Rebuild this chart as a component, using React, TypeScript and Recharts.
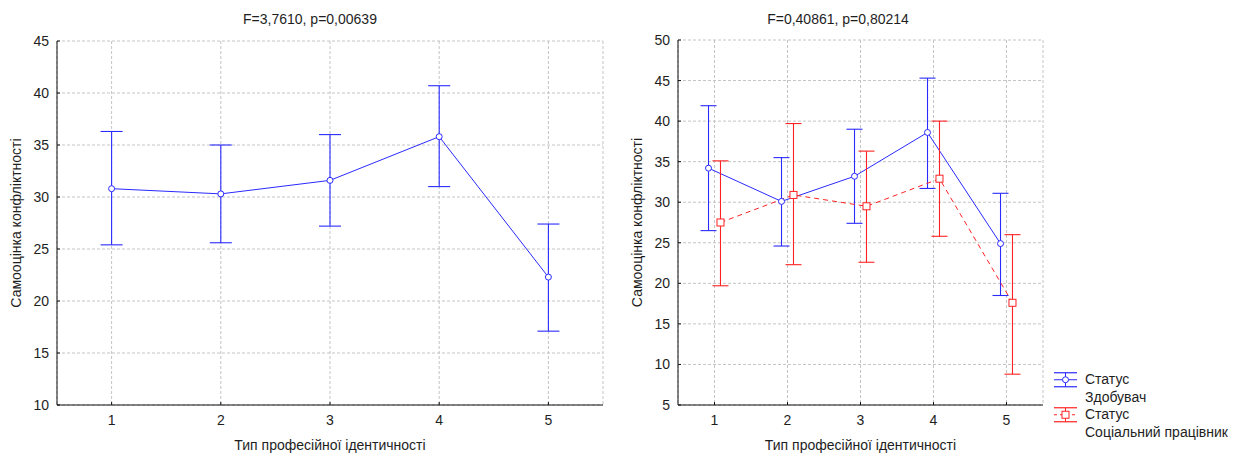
import React from 'react';
import {
  ComposedChart,
  Line,
  XAxis,
  YAxis,
  CartesianGrid,
  ErrorBar,
  Legend,
} from 'recharts';

// Professional identity types (x categories)
const identityTypes = [1, 2, 3, 4, 5];

// Left panel: whole sample, mean and 95% CI bounds
const overallMean = [30.8, 30.3, 31.6, 35.8, 22.3];
const overallLow = [25.4, 25.6, 27.2, 31.0, 17.1];
const overallHigh = [36.3, 35.0, 36.0, 40.7, 27.4];

// Right panel: split by status
const studentMean = [34.2, 30.1, 33.2, 38.6, 24.9];
const studentLow = [26.5, 24.6, 27.4, 31.7, 18.5];
const studentHigh = [41.9, 35.5, 39.0, 45.3, 31.1];

const workerMean = [27.5, 30.9, 29.5, 32.9, 17.6];
const workerLow = [19.7, 22.3, 22.6, 25.8, 8.8];
const workerHigh = [35.1, 39.7, 36.3, 40.0, 26.0];

const leftYTicks = [10, 15, 20, 25, 30, 35, 40, 45];
const rightYTicks = [5, 10, 15, 20, 25, 30, 35, 40, 45, 50];

const leftTitle = 'F=3,7610, p=0,00639';
const rightTitle = 'F=0,40861, p=0,80214';
const xTitle = 'Тип професійної ідентичності';
const yTitle = 'Самооцінка конфліктності';

const seriesNames = ['Статус Здобувач', 'Статус Соціальний працівник'];
const legendLines = [
  ['Статус', 'Здобувач'],
  ['Статус', 'Соціальний працівник'],
];

const FONT = '"Liberation Sans", Arial, sans-serif';
const TEXT = '#1e1e1e';
const BLUE = '#2a2aff';
const RED = '#ff2222';
const FRAME = '#111';
const GRID = '#c4c4c4';
const SHIFT = 0.082; // side-by-side offset of the two status groups

type Row = { x: number; mean: number; err: [number, number] };

const buildRows = (
  mean: number[],
  low: number[],
  high: number[],
  shift = 0
): Row[] =>
  identityTypes.map((t, i) => ({
    x: t + shift,
    mean: mean[i],
    err: [mean[i] - low[i], high[i] - mean[i]],
  }));

const overallRows = buildRows(overallMean, overallLow, overallHigh);
const studentRows = buildRows(studentMean, studentLow, studentHigh, -SHIFT);
const workerRows = buildRows(workerMean, workerLow, workerHigh, SHIFT);

const CircleDot = (props: any) => {
  const { cx, cy, stroke, index } = props;
  if (cx == null || cy == null) return <g key={`c-${index}`} />;
  return (
    <circle key={`c-${index}`} cx={cx} cy={cy} r={3} fill="#fff" stroke={stroke} strokeWidth={1} />
  );
};

const SquareDot = (props: any) => {
  const { cx, cy, stroke, index } = props;
  if (cx == null || cy == null) return <g key={`s-${index}`} />;
  return (
    <rect
      key={`s-${index}`}
      x={cx - 3.5}
      y={cy - 3.5}
      width={7}
      height={7}
      fill="#fff"
      stroke={stroke}
      strokeWidth={1}
    />
  );
};

const XTitle = (props: any) => {
  const vb = props.viewBox || {};
  return (
    <text
      x={vb.x + vb.width / 2}
      y={450}
      textAnchor="middle"
      fontFamily={FONT}
      fontSize={14}
      fill={TEXT}
    >
      {xTitle}
    </text>
  );
};

const YTitle = (props: any) => {
  const vb = props.viewBox || {};
  const x = vb.x - 6;
  const y = vb.y + vb.height / 2;
  return (
    <text
      x={x}
      y={y}
      transform={`rotate(-90, ${x}, ${y})`}
      textAnchor="middle"
      fontFamily={FONT}
      fontSize={14}
      fill={TEXT}
    >
      {yTitle}
    </text>
  );
};

const tickStyle = { fontFamily: FONT, fontSize: 14, fill: TEXT };

const LegendIcon = ({ color, dashed, square }: { color: string; dashed: boolean; square: boolean }) => (
  <svg width={24} height={17.5} style={{ display: 'block', overflow: 'visible' }}>
    <line x1={0} x2={23} y1={1.75} y2={1.75} stroke={color} strokeWidth={1.2} />
    <line x1={0} x2={23} y1={15.75} y2={15.75} stroke={color} strokeWidth={1.2} />
    <line x1={11.5} x2={11.5} y1={1.75} y2={15.75} stroke={color} strokeWidth={1} />
    <line
      x1={0}
      x2={23}
      y1={8.75}
      y2={8.75}
      stroke={color}
      strokeWidth={1}
      strokeDasharray={dashed ? '3 3' : undefined}
    />
    {square ? (
      <rect x={8} y={5.25} width={7} height={7} fill="#fff" stroke={color} />
    ) : (
      <circle cx={11.5} cy={8.75} r={3} fill="#fff" stroke={color} />
    )}
  </svg>
);

const StatusLegend = () => (
  <div style={{ fontFamily: FONT, fontSize: 14, color: TEXT, lineHeight: '17.5px' }}>
    {legendLines.map((lines, i) => (
      <div key={seriesNames[i]} style={{ display: 'flex', alignItems: 'flex-start' }}>
        <div style={{ width: 31, flex: 'none' }}>
          <LegendIcon color={i === 0 ? BLUE : RED} dashed={i === 1} square={i === 1} />
        </div>
        <div style={{ whiteSpace: 'nowrap' }}>
          {lines.map((l) => (
            <div key={l}>{l}</div>
          ))}
        </div>
      </div>
    ))}
  </div>
);

const titleStyle = (left: number, width: number): React.CSSProperties => ({
  position: 'absolute',
  left,
  width,
  top: 11,
  textAlign: 'center',
  fontFamily: FONT,
  fontSize: 14,
  lineHeight: '16px',
  color: TEXT,
  whiteSpace: 'nowrap',
});

export default function App() {
  return (
    <div
      style={{
        position: 'absolute',
        left: 0,
        top: 0,
        width: 1243,
        height: 454,
        background: '#fff',
        overflow: 'hidden',
      }}
    >
      <div style={titleStyle(0, 620)}>{leftTitle}</div>
      <div style={titleStyle(620, 436)}>{rightTitle}</div>

      {/* Left panel: all respondents */}
      <div style={{ position: 'absolute', left: 0, top: 0 }}>
        <ComposedChart width={620} height={454} margin={{ top: 41, right: 17, bottom: 5, left: 27 }}>
          <CartesianGrid stroke={GRID} strokeDasharray="3 2" />
          <XAxis
            type="number"
            dataKey="x"
            domain={[0.5, 5.5]}
            ticks={identityTypes}
            allowDataOverflow
            height={44}
            tickSize={-3}
            tickMargin={13}
            tick={tickStyle}
            stroke={FRAME}
            label={<XTitle />}
          />
          <XAxis
            xAxisId="frame"
            orientation="top"
            type="number"
            domain={[0.5, 5.5]}
            ticks={identityTypes}
            allowDataOverflow
            height={0}
            tickSize={-3}
            tick={false}
            stroke={FRAME}
          />
          <YAxis
            type="number"
            domain={[10, 45]}
            ticks={leftYTicks}
            allowDataOverflow
            width={30}
            tickSize={-3}
            tickMargin={11}
            tick={tickStyle}
            stroke={FRAME}
            label={<YTitle />}
          />
          <YAxis
            yAxisId="frame"
            orientation="right"
            type="number"
            domain={[10, 45]}
            ticks={leftYTicks}
            allowDataOverflow
            width={0}
            tickSize={-3}
            tick={false}
            stroke={FRAME}
          />
          <Line
            data={overallRows}
            dataKey="mean"
            type="linear"
            stroke={BLUE}
            strokeWidth={1}
            dot={<CircleDot />}
            activeDot={false}
            isAnimationActive={false}
          >
            <ErrorBar dataKey="err" direction="y" width={11} stroke={BLUE} strokeWidth={1.1} />
          </Line>
        </ComposedChart>
      </div>

      {/* Right panel: by status */}
      <div style={{ position: 'absolute', left: 620, top: 0 }}>
        <ComposedChart width={623} height={454} margin={{ top: 40, right: 200, bottom: 5, left: 28 }}>
          <CartesianGrid stroke={GRID} strokeDasharray="3 2" />
          <XAxis
            type="number"
            dataKey="x"
            domain={[0.5, 5.5]}
            ticks={identityTypes}
            allowDataOverflow
            height={44}
            tickSize={-3}
            tickMargin={13}
            tick={tickStyle}
            stroke={FRAME}
            label={<XTitle />}
          />
          <XAxis
            xAxisId="frame"
            orientation="top"
            type="number"
            domain={[0.5, 5.5]}
            ticks={identityTypes}
            allowDataOverflow
            height={0}
            tickSize={-3}
            tick={false}
            stroke={FRAME}
          />
          <YAxis
            type="number"
            domain={[5, 50]}
            ticks={rightYTicks}
            allowDataOverflow
            width={30}
            tickSize={-3}
            tickMargin={11}
            tick={tickStyle}
            stroke={FRAME}
            label={<YTitle />}
          />
          <YAxis
            yAxisId="frame"
            orientation="right"
            type="number"
            domain={[5, 50]}
            ticks={rightYTicks}
            allowDataOverflow
            width={0}
            tickSize={-3}
            tick={false}
            stroke={FRAME}
          />
          <Line
            name={seriesNames[0]}
            data={studentRows}
            dataKey="mean"
            type="linear"
            stroke={BLUE}
            strokeWidth={1}
            dot={<CircleDot />}
            activeDot={false}
            isAnimationActive={false}
          >
            <ErrorBar dataKey="err" direction="y" width={8} stroke={BLUE} strokeWidth={1.1} />
          </Line>
          <Line
            name={seriesNames[1]}
            data={workerRows}
            dataKey="mean"
            type="linear"
            stroke={RED}
            strokeWidth={1}
            strokeDasharray="5 4"
            dot={<SquareDot />}
            activeDot={false}
            isAnimationActive={false}
          >
            <ErrorBar dataKey="err" direction="y" width={8} stroke={RED} strokeWidth={1.1} />
          </Line>
          <Legend
            layout="horizontal"
            align="center"
            verticalAlign="middle"
            content={<StatusLegend />}
            wrapperStyle={{ position: 'absolute', left: 434, top: 371, width: 190, height: 72 }}
          />
        </ComposedChart>
      </div>
    </div>
  );
}
